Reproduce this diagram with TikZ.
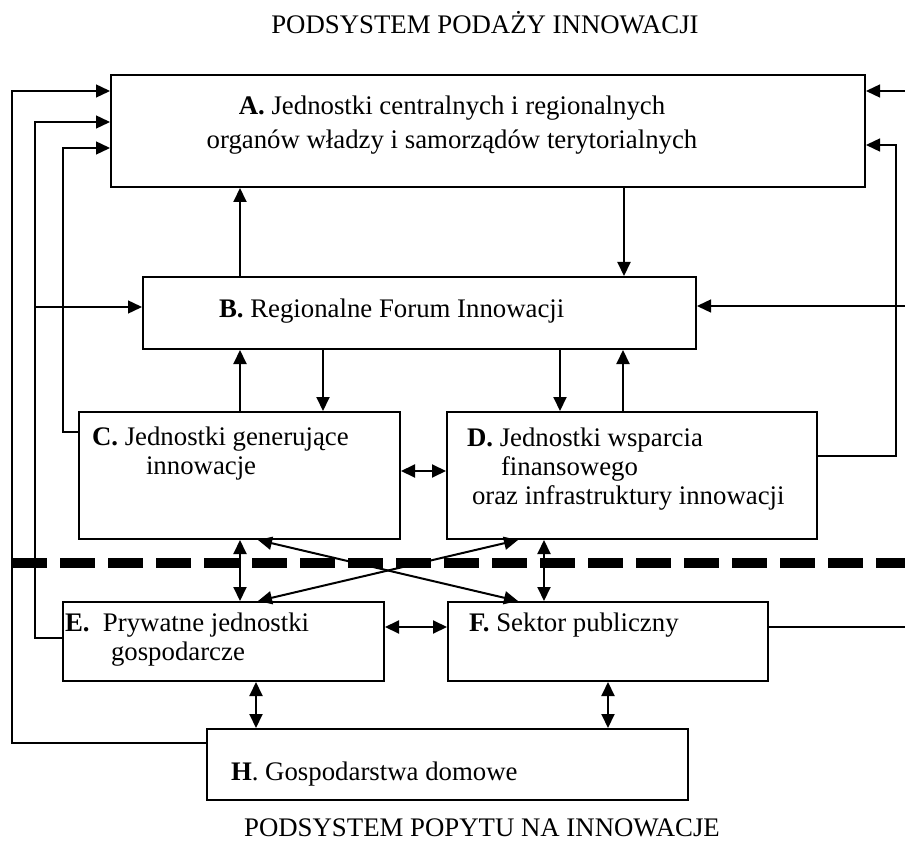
\documentclass[tikz,border=0pt]{standalone}
\usepackage{fontspec}
\setmainfont{Liberation Serif}
\usetikzlibrary{arrows.meta,fit}

\tikzset{every picture/.style={line width=1pt}}
\tikzset{
  box/.style={draw, line width=1pt, inner sep=0pt},
  lbl/.style={anchor=north west, inner sep=0pt, align=left, font=\fontsize{13.4}{14.5}\selectfont},
  arr/.style={-{Triangle[length=7pt,width=6.5pt]}},
  darr/.style={{Triangle[length=7pt,width=6.5pt]}-{Triangle[length=7pt,width=6.5pt]}},
  back/.style={line width=0.7pt},
}

\begin{document}
\begin{tikzpicture}[x=0.5pt,y=0.5pt,yscale=-1,xscale=1]
\useasboundingbox (0,0) rectangle (905,845);

% Boxes
\node[box, fit={(111,75) (865,187)}] (A) {};
\node[box, fit={(143,277) (696,349)}] (B) {};
\node[box, fit={(79,412) (400,539)}] (C) {};
\node[box, fit={(447,412) (817,539)}] (D) {};
\node[box, fit={(63,602) (384,681)}] (E) {};
\node[box, fit={(448,602) (768,681)}] (F) {};
\node[box, fit={(207,729) (688,800)}] (H) {};

% free ends at the right edge
\coordinate (rA) at (905,91);
\coordinate (rB) at (905,306);
\coordinate (rF) at (905,627);

% Text Nodes
\node[lbl, anchor=base] (tTop) at (485,34) {PODSYSTEM PODAŻY INNOWACJI};
\node[lbl, anchor=north, align=center] (tA) at (452,95) {\textbf{A.} Jednostki centralnych i regionalnych\\[2.5pt] organów władzy i samorządów terytorialnych};
\node[lbl] (tB) at (218,298) {\textbf{B.} Regionalne Forum Innowacji};
\node[lbl] (tC) at (91,426) {\textbf{C.} Jednostki generujące\\\hspace*{27pt}innowacje};
\node[lbl] (tD) at (466,427) {\textbf{D.} Jednostki wsparcia\\\hspace*{17pt}finansowego\\\hspace*{2.5pt}oraz infrastruktury innowacji};
\node[lbl] (tE) at (64,612) {\textbf{E.}\ \ Prywatne jednostki\\\hspace*{23pt}gospodarcze};
\node[lbl] (tF) at (468,612) {\textbf{F.} Sektor publiczny};
\node[lbl] (tH) at (230,761) {\textbf{H}. Gospodarstwa domowe};
\node[lbl, anchor=base] (tBot) at (482,836) {PODSYSTEM POPYTU NA INNOWACJE};

% divider between the two subsystems
\draw[line width=5pt, dash pattern=on 17.5pt off 6.5pt] (12,563) -- (905,563);

% A, B, C, D
\draw[arr] (A.south -| 624,0) -- (B.north -| 624,0);
\draw[arr] (B.north -| 240,0) -- (A.south -| 240,0);
\draw[arr] (B.south -| 323,0) -- (C.north -| 323,0);
\draw[arr] (C.north -| 240,0) -- (B.south -| 240,0);
\draw[arr] (B.south -| 560,0) -- (D.north -| 560,0);
\draw[arr] (D.north -| 623,0) -- (B.south -| 623,0);
\draw[darr] (C.east |- 0,471) -- (D.west |- 0,471);

% across the divider
\draw[darr] (C.south -| 240,0) -- (E.north -| 240,0);
\draw[darr] (D.south -| 544,0) -- (F.north -| 544,0);
\draw[darr] (C.south -| 258,0) -- (F.north -| 518,0);
\draw[darr] (D.south -| 518,0) -- (E.north -| 258,0);

% E, F, H
\draw[darr] (E.east |- 0,627) -- (F.west |- 0,627);
\draw[darr] (E.south -| 256,0) -- (H.north -| 256,0);
\draw[darr] (F.south -| 608,0) -- (H.north -| 608,0);

% feedback to A and B
\draw[arr, back] (H.west |- 0,743) -| (12,91) -- (A.west |- 0,91);
\draw[arr, back] (E.west |- 0,638) -| (35,122) -- (A.west |- 0,122);
\draw[arr, back] (35,307) -- (B.west |- 0,307);
\draw[arr, back] (C.west |- 0,432) -| (63,148) -- (A.west |- 0,148);
\draw[arr, back] (D.east |- 0,456) -| (896,145) -- (A.east |- 0,145);
\draw[arr, back] (rA) -- (A.east |- rA);
\draw[arr, back] (rB) -- (B.east |- rB);
\draw[back] (F.east |- rF) -- (rF);
\end{tikzpicture}
\end{document}
